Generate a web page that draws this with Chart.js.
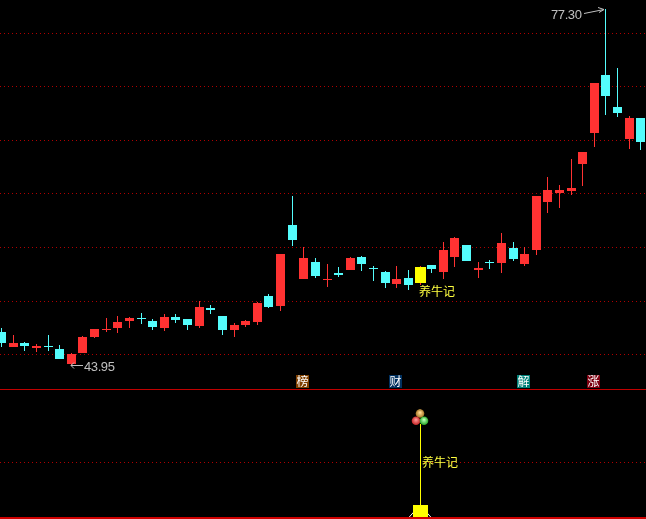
<!DOCTYPE html>
<html>
<head>
<meta charset="utf-8">
<style>html,body{margin:0;padding:0;background:#000;overflow:hidden}canvas{display:block}</style>
<script src="https://cdn.jsdelivr.net/npm/chart.js@4"></script>
</head>
<body>
<canvas id="c" width="646" height="519"></canvas>
<script>
const opens  = [47.10,45.70,46.07,45.61,45.79,45.51,44.11,45.14,46.64,47.29,47.48,48.13,48.41,48.13,47.48,48.50,48.32,47.66,49.35,48.60,47.29,47.76,48.04,50.47,49.53,57.10,52.06,53.64,51.96,52.62,52.90,54.11,53.08,52.71,51.59,52.15,51.68,53.36,52.71,54.11,55.23,52.90,53.64,53.55,54.95,53.46,54.77,59.25,60.09,60.28,62.80,65.70,71.12,68.13,65.14,67.10];
const closes = [46.07,46.07,45.79,45.79,45.70,44.58,45.05,46.64,47.38,47.38,48.04,48.41,48.32,47.57,48.50,48.22,47.76,49.44,49.16,47.29,47.76,48.13,49.81,49.44,54.39,55.70,54.02,52.34,52.06,52.43,54.02,53.46,52.99,51.68,52.06,51.50,53.18,52.99,54.77,55.89,53.74,53.08,53.55,55.42,53.93,54.39,59.81,60.37,60.37,60.56,63.93,70.38,69.16,67.57,67.10,64.86];
const highs  = [47.48,46.82,46.17,45.98,46.82,45.89,45.14,46.73,47.38,48.41,48.60,48.50,48.88,48.32,48.79,48.79,48.32,50.00,49.63,48.60,47.94,48.22,49.91,50.65,54.39,59.81,55.05,54.02,53.46,53.18,54.11,54.21,53.27,52.80,53.27,52.90,53.27,53.36,55.51,55.98,55.23,53.64,53.83,56.36,55.51,55.05,59.81,61.59,60.84,63.27,63.93,70.38,77.30,71.78,67.29,67.10];
const lows   = [45.70,45.70,45.33,45.23,45.33,44.58,43.95,45.14,46.54,47.10,47.01,47.48,47.85,47.29,47.20,47.94,47.29,47.48,48.79,46.82,46.64,47.57,47.76,49.35,49.07,55.14,52.06,52.15,51.31,52.24,52.90,52.80,51.87,51.21,51.21,51.03,51.50,52.62,52.06,53.18,53.74,52.15,52.99,52.62,53.74,53.27,54.30,58.22,58.69,59.91,60.75,64.39,67.38,67.20,64.21,64.11];
const priceTicks = [45,50,55,60,65,70,75];
const signalIndex = 36;
const signalBoxValue = 11.7;
const signalStemValue = 84.7;
const signalLine = [0,0,11.7,0,0];
const signalLineIndex = [0,35,36,37,55];
const signalTicks = [50];
const signalName = '养牛记';
const tagLabels = ['榜','财','解','涨'];
const tagIndex  = [26,34,45,51];
const tagColors = ['#804000','#00305f','#008078','#7c0010'];
const highLabel = '77.30';
const lowLabel  = '43.95';
const highIndex = 52;
const lowIndex  = 6;

const RED='#ff3232', CYAN='#54fcfc', YELLOW='#ffff00', GRID='#b00000', LABEL='#c0c0c0';
const CJK='"Noto Sans CJK SC","Liberation Sans",sans-serif';
const X_MIN=-0.14111, X_MAX=55.44313;
const idx = opens.map((_,i)=>i);
const colorOf = i => closes[i]>=opens[i]?RED:CYAN;

const snap = {
  id:'snap',
  beforeDatasetsDraw(chart){
    chart.data.datasets.forEach((d,k)=>{
      if(d.type==='line')return;
      chart.getDatasetMeta(k).data.forEach(el=>{
        el.x=Math.floor(el.x)+0.5;
        el.y=Math.round(el.y);
        el.base=Math.round(el.base);
      });
    });
  }
};
const marks = {
  id:'marks',
  afterDatasetsDraw(chart){
    const {ctx,scales:{x,y,y2}}=chart;
    const col=i=>Math.floor(x.getPixelForValue(i));
    ctx.save();
    // panel separator
    ctx.fillStyle='#c00000';
    ctx.fillRect(0,Math.round(y.bottom),chart.width,1);
    // high / low labels
    ctx.textBaseline='middle';
    ctx.font='13px "Liberation Sans"';
    ctx.letterSpacing='-0.4px';
    ctx.fillStyle=LABEL; ctx.strokeStyle=LABEL; ctx.lineWidth=1;
    const lx=col(lowIndex), ly=Math.round(y.getPixelForValue(lows[lowIndex]));
    ctx.textAlign='left';
    ctx.fillText(lowLabel,lx+13,ly+1);
    ctx.beginPath();
    ctx.moveTo(lx+12,ly-0.5);ctx.lineTo(lx,ly-0.5);
    ctx.moveTo(lx+3,ly-3.5);ctx.lineTo(lx,ly-0.5);ctx.lineTo(lx+3,ly+2.5);
    ctx.stroke();
    const hx=col(highIndex), hy=Math.round(y.getPixelForValue(highs[highIndex]));
    ctx.textAlign='left';
    ctx.fillText(highLabel,hx-54,hy+6);
    ctx.letterSpacing='0px';
    ctx.beginPath();
    ctx.moveTo(hx-21,hy+4.5);ctx.lineTo(hx-1,hy+0.5);
    ctx.moveTo(hx-7,hy-1.5);ctx.lineTo(hx-1,hy+0.5);ctx.lineTo(hx-6,hy+3.5);
    ctx.stroke();
    // tags
    ctx.font='12px '+CJK;
    ctx.textAlign='center';
    tagLabels.forEach((t,k)=>{
      const cx=col(tagIndex[k])-7, top=Math.round(y.bottom)-14;
      ctx.fillStyle=tagColors[k];
      ctx.fillRect(cx,top,13,13);
      ctx.fillStyle='#ffffff';
      ctx.fillText(t,cx+6.5,top+6.5);
    });
    // signal names
    ctx.fillStyle='#ffff40';
    ctx.textAlign='left';
    ctx.fillText(signalName,col(signalIndex)-1,Math.round(y.getPixelForValue(lows[signalIndex]))+6.5);
    ctx.fillText(signalName,col(signalIndex)+2,Math.round(y2.getPixelForValue(signalTicks[0])));
    // three balls on the signal stem
    const sx=col(signalIndex)+0.5, sy=Math.round(y2.getPixelForValue(signalStemValue));
    [[-0.5,-10.5,'#ffd890','#a07020'],[-4.5,-3.3,'#ff9090','#c02020'],[3.5,-3.3,'#b0ffb0','#20a020']].forEach(b=>{
      const bx=sx+b[0], by=sy+b[1];
      const g=ctx.createRadialGradient(bx,by-1,0.5,bx,by,4.5);
      g.addColorStop(0,b[2]);g.addColorStop(1,b[3]);
      ctx.fillStyle=g;
      ctx.beginPath();ctx.arc(bx,by,4.3,0,Math.PI*2);ctx.fill();
    });
    ctx.fillStyle='#b09050';
    ctx.fillRect(sx-1,sy-15,1,2);
    ctx.restore();
  }
};

const common={grouped:false,inflateAmount:0,borderWidth:0,minBarLength:1,xAxisID:'x'};
new Chart(document.getElementById('c'),{
  type:'bar',
  data:{datasets:[
    {...common,label:'wick',order:6,yAxisID:'y',barThickness:1,
      data:idx.map(i=>({x:i,y:[lows[i],highs[i]]})),backgroundColor:idx.map(colorOf)},
    {...common,label:'body',order:5,yAxisID:'y',barThickness:9,
      data:idx.filter(i=>i!==signalIndex).map(i=>({x:i,y:[opens[i],closes[i]]})),
      backgroundColor:idx.filter(i=>i!==signalIndex).map(colorOf)},
    {...common,label:'signal body',order:4,yAxisID:'y',barThickness:11,
      data:[{x:signalIndex,y:[opens[signalIndex],closes[signalIndex]]}],backgroundColor:YELLOW},
    {type:'line',label:'signal line',order:7,xAxisID:'x',yAxisID:'y2',borderColor:'#ffffff',borderWidth:1,pointRadius:0,
      data:signalLineIndex.map((v,k)=>({x:v,y:signalLine[k]}))},
    {...common,label:'stem',order:3,yAxisID:'y2',barThickness:1,
      data:[{x:signalIndex,y:[0,signalStemValue]}],backgroundColor:YELLOW},
    {...common,label:'signal box',order:2,yAxisID:'y2',barThickness:15,
      data:[{x:signalIndex,y:[0,signalBoxValue]}],backgroundColor:YELLOW},
    {type:'line',label:'base',order:1,xAxisID:'x',yAxisID:'y2',borderColor:'#d00000',borderWidth:2,pointRadius:0,
      data:[{x:X_MIN,y:0},{x:X_MAX,y:0}]}
  ]},
  options:{
    responsive:false,animation:false,
    layout:{padding:0},
    plugins:{legend:{display:false},tooltip:{enabled:false}},
    scales:{
      x:{type:'linear',min:X_MIN,max:X_MAX,display:false,offset:false,grid:{display:false}},
      y2:{type:'linear',position:'left',stack:'panels',stackWeight:130,min:-0.9,max:116.2,
        afterBuildTicks(s){s.ticks=signalTicks.map(v=>({value:v}));},
        ticks:{display:false},
        grid:{color:GRID,lineWidth:1,drawTicks:false,tickLength:0},
        border:{display:false,dash:[1,3]}},
      y:{type:'linear',position:'left',stack:'panels',stackWeight:389,min:41.776,max:78.13,
        afterBuildTicks(s){s.ticks=priceTicks.map(v=>({value:v}));},
        ticks:{display:false},
        grid:{color:GRID,lineWidth:1,drawTicks:false,tickLength:0},
        border:{display:false,dash:[1,3]}}
    }
  },
  plugins:[snap,marks]
});
</script>
</body>
</html>
